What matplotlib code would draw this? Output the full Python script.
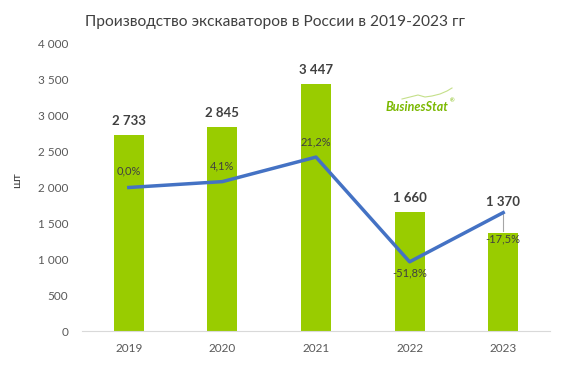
import matplotlib.pyplot as plt
from matplotlib.lines import Line2D
import numpy as np

years = ["2019", "2020", "2021", "2022", "2023"]
production = [2733, 2845, 3447, 1660, 1370]
growth = [0.0, 4.1, 21.2, -51.8, -17.5]
y_ticks = [0, 500, 1000, 1500, 2000, 2500, 3000, 3500, 4000]

plt.rcParams['font.family'] = ['Lato', 'DejaVu Sans']

BAR_COLOR = "#99CC00"
LINE_COLOR = "#4472C4"
TEXT_COLOR = "#404040"
TICK_COLOR = "#595959"
LOGO_COLOR = "#7AB800"


def fmt_thousands(v):
    return f"{v:,}".replace(",", " ")


def fmt_pct(v):
    return f"{v:.1f}%".replace(".", ",")


fig = plt.figure(figsize=(5.76, 3.71), dpi=100)
ax = fig.add_axes([82 / 576, 1 - 331 / 371, 468 / 576, 287 / 371])

x = np.arange(len(years))
ax.bar(x, production, width=0.32, color=BAR_COLOR, zorder=2)
ax.set_xlim(-0.5, len(years) - 0.5)
ax.set_ylim(0, 4000)
ax.set_yticks(y_ticks)
ax.set_yticklabels([fmt_thousands(v) for v in y_ticks])
ax.set_xticks(x)
ax.set_xticklabels(years)
ax.tick_params(axis='both', length=0, labelsize=8.5, colors=TICK_COLOR)
ax.tick_params(axis='y', pad=10)
ax.tick_params(axis='x', pad=9)
for side in ["top", "right", "left"]:
    ax.spines[side].set_visible(False)
ax.spines["bottom"].set_color("#D9D9D9")
ax.set_ylabel("шт", fontsize=8.5, color=TEXT_COLOR)
ax.yaxis.set_label_coords(-0.128, 0.526)

# value labels above bars (the last one was moved up in the original)
label_lift = [190, 190, 190, 190, 430]
for xi, v, lift in zip(x, production, label_lift):
    ax.text(xi, v + lift, fmt_thousands(v), ha='center', va='center',
            fontsize=9.5, fontweight='bold', color=TEXT_COLOR)

# growth line on a hidden secondary axis
ax2 = ax.twinx()
ax2.set_ylim(-100, 100)
ax2.axis('off')
ax2.plot(x, growth, color=LINE_COLOR, linewidth=2.5, zorder=3)

# label offsets in points (below for the last two)
offsets = [8, 7, 7, -4, -15]
for xi, g, off in zip(x, growth, offsets):
    va = 'bottom' if off > 0 else 'top'
    ax2.annotate(fmt_pct(g), (xi, g), xytext=(0, off), textcoords='offset points',
                 ha='center', va=va, fontsize=8, color=TEXT_COLOR)
ax2.plot([x[-1], x[-1]], [growth[-1], growth[-1] - 13], color="#A6A6A6", linewidth=0.8)

fig.text(275 / 576, 1 - 22 / 371, "Производство экскаваторов в России в 2019-2023 гг",
         ha='center', va='center', fontsize=11.2, color=TEXT_COLOR)

# BusinesStat logo
fig.text(386 / 576, 1 - 107 / 371, "BusinesStat", ha='left', va='center',
         fontsize=9, fontweight='bold', style='italic', color=LOGO_COLOR)
fig.text(450 / 576, 1 - 101 / 371, "®", ha='left', va='center', fontsize=4, color=LOGO_COLOR)
swoosh_x = [402, 410, 418, 425, 432, 440, 447, 452]
swoosh_y = [99, 97, 95, 97, 96, 94, 91, 88]
fig.add_artist(Line2D([v / 576 for v in swoosh_x], [1 - v / 371 for v in swoosh_y],
                      transform=fig.transFigure, color="#C5E08A", linewidth=0.8))

fig.savefig("out.png", dpi=100)
